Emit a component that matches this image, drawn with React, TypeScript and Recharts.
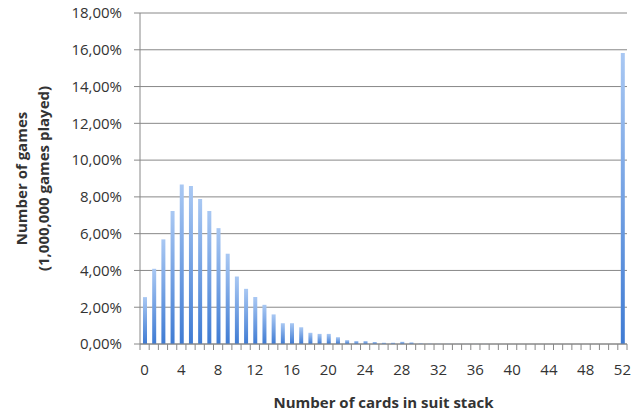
import React from "react";
import { BarChart, Bar, XAxis, YAxis, CartesianGrid } from "recharts";

const cards: number[] = Array.from({ length: 53 }, (_, i) => i);
const shares: number[] = [
  2.55, 4.09, 5.69, 7.23, 8.68, 8.59, 7.88, 7.23, 6.3, 4.91,
  3.67, 3.0, 2.55, 2.13, 1.61, 1.13, 1.13, 0.91, 0.61, 0.55,
  0.55, 0.37, 0.21, 0.16, 0.16, 0.11, 0.07, 0.07, 0.12, 0.09,
  0.04, 0.03, 0.02, 0.02, 0.01, 0.01, 0.01, 0.01, 0, 0,
  0, 0, 0, 0, 0, 0, 0, 0, 0, 0,
  0, 0, 15.83,
];
const yTicks: number[] = [0, 2, 4, 6, 8, 10, 12, 14, 16, 18];
const yTitle: string[] = ["Number of games", "(1,000,000 games played)"];
const xTitle = "Number of cards in suit stack";

const data = cards.map((c, i) => ({ card: c, share: shares[i] }));

const W = 631;
const H = 414;
const M = { top: 13, right: 4, bottom: 0, left: 0 };
const X_H = 70;
const Y_W = 140;
const FONT = "'Open Sans', sans-serif";
const TXT = "#333333";
const GRID = "#888888";

const plotW = W - M.left - M.right - Y_W;
const band = plotW / cards.length;

const XTick = (props: any) => {
  const { x, y, payload, index } = props;
  const left = x - band / 2;
  const isLast = index === cards.length - 1;
  return (
    <g>
      <line x1={left} x2={left} y1={y - 8} y2={y - 2} stroke={GRID} strokeWidth={1} />
      {isLast && (
        <line x1={x + band / 2} x2={x + band / 2} y1={y - 8} y2={y - 2} stroke={GRID} strokeWidth={1} />
      )}
      {payload.value % 4 === 0 && (
        <text x={x} y={y + 23} textAnchor="middle" fill={TXT} fontSize={15} fontFamily={FONT}>
          {payload.value}
        </text>
      )}
    </g>
  );
};

const fmt = (v: number) => v.toFixed(2).replace(".", ",") + "%";

export default function App() {
  return (
    <div style={{ position: "absolute", left: 0, top: 0, background: "#fff" }}>
      <BarChart width={W} height={H} data={data} margin={M} barCategoryGap={0}>
        <defs>
          <linearGradient id="barGrad" x1="0" y1="0" x2="0" y2="1">
            <stop offset="0%" stopColor="#a9c8f3" />
            <stop offset="100%" stopColor="#3f7bd3" />
          </linearGradient>
        </defs>
        <CartesianGrid vertical={false} stroke={GRID} strokeWidth={1} />
        <XAxis
          dataKey="card"
          interval={0}
          tickLine={false}
          stroke={GRID}
          tick={<XTick />}
          height={X_H}
          label={{
            value: xTitle,
            position: "insideBottom",
            offset: 6,
            fill: TXT,
            fontSize: 15,
            fontWeight: "bold",
            fontFamily: FONT,
          }}
        />
        <YAxis
          width={Y_W}
          domain={[0, 18]}
          ticks={yTicks}
          tickFormatter={fmt}
          stroke={GRID}
          tickSize={6}
          tickMargin={12}
          tick={{ fill: TXT, fontSize: 15, fontFamily: FONT }}
          label={(p: any) => {
            const vb = p.viewBox;
            const cy = vb.y + vb.height / 2;
            return (
              <g>
                {yTitle.map((t, i) => (
                  <text
                    key={i}
                    x={0}
                    y={0}
                    transform={`translate(${21 + i * 22},${cy}) rotate(-90)`}
                    textAnchor="middle"
                    dominantBaseline="central"
                    fill={TXT}
                    fontSize={15}
                    fontWeight="bold"
                    fontFamily={FONT}
                  >
                    {t}
                  </text>
                ))}
              </g>
            );
          }}
        />
        <Bar dataKey="share" fill="url(#barGrad)" barSize={4} isAnimationActive={false} />
      </BarChart>
    </div>
  );
}
